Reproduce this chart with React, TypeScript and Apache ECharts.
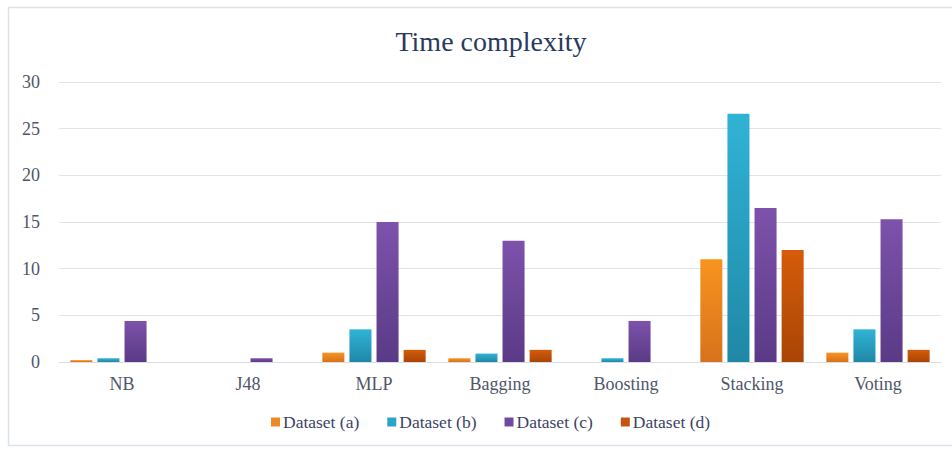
import React, { useEffect, useRef } from "react";
import * as echarts from "echarts";

const categories = ["NB", "J48", "MLP", "Bagging", "Boosting", "Stacking", "Voting"];
const seriesNames = ["Dataset (a)", "Dataset (b)", "Dataset (c)", "Dataset (d)"];
const datasetA = [0.2, 0, 1.0, 0.4, 0, 11.0, 1.0];
const datasetB = [0.4, 0, 3.5, 0.9, 0.4, 26.6, 3.5];
const datasetC = [4.4, 0.4, 15.0, 13.0, 4.4, 16.5, 15.3];
const datasetD = [0, 0, 1.3, 1.3, 0, 12.0, 1.3];
const yTicks = [0, 5, 10, 15, 20, 25, 30];

const seriesValues = [datasetA, datasetB, datasetC, datasetD];
const seriesColors: [string, string][] = [
  ["#f7941f", "#d8721c"],
  ["#31b3d6", "#1f88a6"],
  ["#7d52ab", "#5a3a86"],
  ["#d45c0a", "#a94505"],
];
const legendColors = ["#ee8a26", "#2aa5c9", "#6f4a9e", "#c55410"];

const FONT = "'Liberation Serif', 'Times New Roman', serif";

export default function App() {
  const ref = useRef<HTMLDivElement>(null);

  useEffect(() => {
    if (!ref.current) return;
    const chart = echarts.init(ref.current, null, { renderer: "svg" });
    chart.setOption({
      animation: false,
      backgroundColor: "#ffffff",
      title: {
        text: "Time complexity",
        left: 486,
        textAlign: "center",
        top: 22,
        textStyle: { fontFamily: FONT, fontSize: 28, fontWeight: "normal", color: "#2a3a5e" },
      },
      graphic: [
        {
          type: "rect",
          shape: { x: 8.5, y: 7.5, width: 960, height: 438 },
          style: { fill: "none", stroke: "#dbe2ea", lineWidth: 1.5 },
          silent: true,
          z: -1,
        },
      ],
      legend: {
        bottom: 13,
        left: 266,
        itemWidth: 9,
        itemHeight: 9,
        itemGap: 28,
        icon: "rect",
        textStyle: { fontFamily: FONT, fontSize: 17.5, color: "#3d4466", padding: [0, 0, 0, -2] },
        data: seriesNames.map((n, i) => ({ name: n, itemStyle: { color: legendColors[i] } })),
      },
      grid: { left: 59, right: 11, top: 82, bottom: 87 },
      xAxis: {
        type: "category",
        data: categories,
        axisTick: { show: false },
        axisLine: { lineStyle: { color: "#d9dde3", width: 1 } },
        axisLabel: { fontFamily: FONT, fontSize: 18, color: "#50566a", margin: 13 },
      },
      yAxis: {
        type: "value",
        min: yTicks[0],
        max: yTicks[yTicks.length - 1],
        interval: 5,
        axisLine: { show: false },
        axisTick: { show: false },
        splitLine: { lineStyle: { color: "#dfe3ea", width: 1 } },
        axisLabel: { fontFamily: FONT, fontSize: 18, color: "#50566a", margin: 19 },
      },
      series: seriesNames.map((name, i) => ({
        name,
        type: "bar",
        data: seriesValues[i],
        barGap: "23%",
        barCategoryGap: "18%",
        itemStyle: {
          color: new echarts.graphic.LinearGradient(0, 0, 0, 1, [
            { offset: 0, color: seriesColors[i][0] },
            { offset: 1, color: seriesColors[i][1] },
          ]),
        },
      })),
    });
    return () => chart.dispose();
  }, []);

  return (
    <div
      ref={ref}
      style={{ position: "fixed", left: 0, top: 0, width: 952, height: 449 }}
    />
  );
}
